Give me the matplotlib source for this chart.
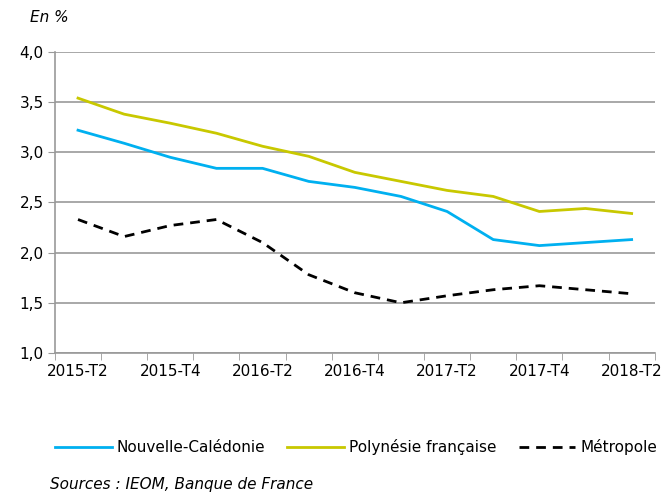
import numpy as np
import matplotlib.pyplot as plt

trimestres = ["2015-T2", "2015-T3", "2015-T4", "2016-T1", "2016-T2", "2016-T3",
              "2016-T4", "2017-T1", "2017-T2", "2017-T3", "2017-T4", "2018-T1",
              "2018-T2"]
caledonie = [3.22, 3.09, 2.95, 2.84, 2.84, 2.71, 2.65, 2.56, 2.41, 2.13, 2.07, 2.10, 2.13]
polynesie = [3.54, 3.38, 3.29, 3.19, 3.06, 2.96, 2.80, 2.71, 2.62, 2.56, 2.41, 2.44, 2.39]
metropole = [2.33, 2.16, 2.27, 2.33, 2.10, 1.78, 1.60, 1.50, 1.57, 1.63, 1.67, 1.63, 1.59]

plt.rcParams["font.family"] = "DejaVu Sans"

fig = plt.figure(figsize=(6.62, 4.95), dpi=100)
ax = fig.add_axes([0.083, 0.287, 0.906, 0.608])

x = np.arange(len(trimestres))
ax.plot(x, caledonie, color="#00B0F0", lw=2.0, label="Nouvelle-Calédonie")
ax.plot(x, polynesie, color="#C8C800", lw=2.0, label="Polynésie française")
ax.plot(x, metropole, color="black", lw=2.0, ls=(0, (3.5, 2.5)), label="Métropole")

ax.set_xlim(-0.5, len(trimestres) - 0.5)
ax.set_ylim(1.0, 4.0)
yt = np.arange(1.0, 4.01, 0.5)
ax.set_yticks(yt)
ax.set_yticklabels([f"{v:.1f}".replace(".", ",") for v in yt], fontsize=11)
ax.set_xticks(x[::2])
ax.set_xticklabels(trimestres[::2], fontsize=11)
ax.set_xticks(np.arange(-0.5, len(trimestres)), minor=True)
ax.tick_params(axis="x", which="major", length=0, pad=8)
ax.tick_params(axis="x", which="minor", length=5, color="#999999")
ax.tick_params(axis="y", length=5, color="#999999", pad=3)

ax.grid(axis="y", color="#999999", lw=1.2)
ax.set_axisbelow(True)
for s in ["top", "right"]:
    ax.spines[s].set_visible(False)
for s in ["left", "bottom"]:
    ax.spines[s].set_color("#999999")
    ax.spines[s].set_linewidth(1.2)

fig.text(0.045, 0.955, "En %", fontsize=11, style="italic")
fig.legend(loc="center", bbox_to_anchor=(0.538, 0.096), ncol=3, frameon=False,
           fontsize=11, handlelength=3.7, columnspacing=1.45, handletextpad=0.33)
fig.text(0.075, 0.012, "Sources : IEOM, Banque de France", fontsize=11, style="italic")

fig.savefig("out.png", dpi=100)
